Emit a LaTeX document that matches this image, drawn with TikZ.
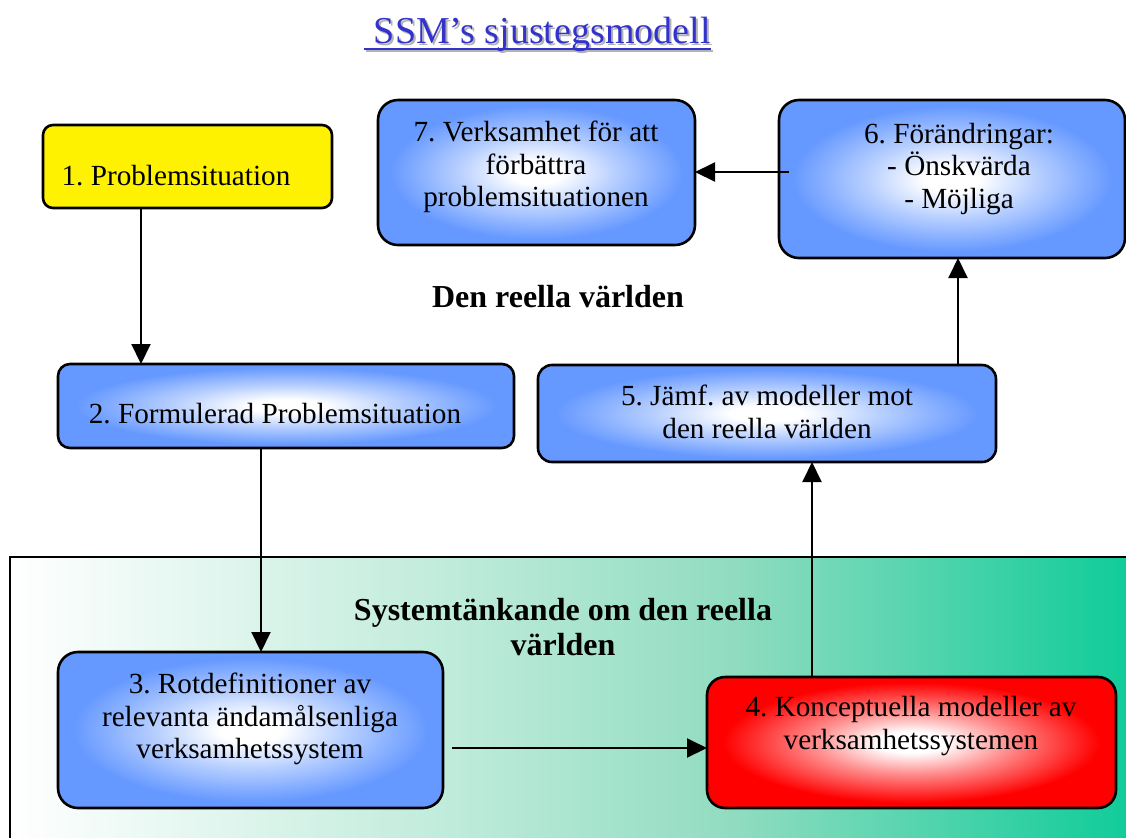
\documentclass[tikz,border=0pt]{standalone}
\usepackage{fontspec}
\setmainfont{Liberation Serif}
\usetikzlibrary{arrows.meta,calc}
\frenchspacing
\definecolor{boxblue}{RGB}{102,153,255}
\definecolor{boxred}{RGB}{255,0,0}
\definecolor{titleblue}{RGB}{51,51,204}
\definecolor{gA}{RGB}{190,235,218}
\definecolor{gB}{RGB}{144,220,192}
\definecolor{gC}{RGB}{16,204,153}
\colorlet{bmid}{white!55!boxblue}
\colorlet{rmid}{white!55!boxred}
\pgfdeclareradialshading{blueshade}{\pgfpoint{0bp}{0bp}}{color(0bp)=(white); color(4bp)=(white); color(12bp)=(bmid); color(23bp)=(boxblue); color(50bp)=(boxblue)}
\pgfdeclareradialshading{redshade}{\pgfpoint{0bp}{0bp}}{color(0bp)=(white); color(4bp)=(white); color(12bp)=(rmid); color(23bp)=(boxred); color(50bp)=(boxred)}
\pgfdeclarehorizontalshading{greenshade}{100bp}{color(0bp)=(white); color(25bp)=(white); color(45bp)=(gA); color(57.5bp)=(gB); color(75bp)=(gC); color(100bp)=(gC)}
\tikzset{
  box/.style={rounded corners=#1, draw=black, line width=1.3pt, inner sep=0pt, outer sep=0pt, shading=blueshade},
  redbox/.style={box=#1, shading=redshade},
  yellowbox/.style={rounded corners=#1, draw=black, line width=1.3pt, inner sep=0pt, outer sep=0pt, fill=yellow},
  txt/.style={align=center, font=\fontsize{14.6pt}{16.3pt}\selectfont\frenchspacing, inner sep=0pt},
  lbl/.style={align=center, font=\fontsize{16pt}{17.5pt}\selectfont\bfseries\frenchspacing, inner sep=0pt},
  arr/.style={line width=1pt, -{Triangle[length=10pt,width=9.5pt]}},
  ttl/.style={anchor=base west, inner sep=0pt, font=\fontsize{19pt}{22pt}\selectfont}
}
\begin{document}
\begin{tikzpicture}[x=0.5pt,y=-0.5pt]
\useasboundingbox (0,0) rectangle (1126,837);
\fill[white] (0,0) rectangle (1126,837);
% green region
\path[shading=greenshade, draw=black, line width=1pt] (10,557) rectangle (1128,839);
% title
\node[ttl, text=black!30] (titleshadow) at (366,45) {\ SSM’s sjustegsmodell};
\draw[black!30, line width=1pt] ([yshift=-3pt]titleshadow.base west) -- ([yshift=-3pt]titleshadow.base east);
\node[ttl, text=titleblue] (title) at (364,43) {\ SSM’s sjustegsmodell};
\draw[titleblue, line width=1pt] ([yshift=-3pt]title.base west) -- ([yshift=-3pt]title.base east);
% boxes
\node[yellowbox=5pt, minimum width=144.5pt, minimum height=41.5pt] (b1) at (187.5,166.5) {};
\node[box=6pt, minimum width=228pt, minimum height=42pt] (b2) at (286,406) {};
\node[box=10pt, minimum width=192.5pt, minimum height=78pt] (b3) at (250.5,730) {};
\node[redbox=9pt, minimum width=204.5pt, minimum height=65.5pt] (b4) at (911.5,742.5) {};
\node[box=7pt, minimum width=229pt, minimum height=48.5pt] (b5) at (767,413.5) {};
\node[box=10pt, minimum width=173pt, minimum height=79pt] (b6) at (952,179) {};
\node[box=10pt, minimum width=158.5pt, minimum height=72.5pt] (b7) at (536.5,172.5) {};
% texts
\node[txt] (t1) at (176,176) {1. Problemsituation};
\node[txt] (t2) at (275,414) {2. Formulerad Problemsituation};
\node[txt] (t3) at (250,719) {3. Rotdefinitioner av\\relevanta ändamålsenliga\\verksamhetssystem};
\node[txt] (t4) at (911,726) {4. Konceptuella modeller av\\verksamhetssystemen};
\node[txt] (t5) at (767,412) {5. Jämf. av modeller mot\\den reella världen};
\node[txt] (t6) at (959,169) {6. Förändringar:\\- Önskvärda\\- Möjliga};
\node[txt] (t7) at (536,167) {7. Verksamhet för att\\förbättra\\problemsituationen};
\node[lbl] (real) at (558,297) {Den reella världen};
\node[lbl] (sys) at (563,627) {Systemtänkande om den reella\\världen};
% connectors
\draw[arr] ([xshift=-23.25pt]b1.south) -- ([xshift=-23.25pt]b1.south |- b2.north);
\draw[arr] ([xshift=-12.5pt]b2.south) -- ([xshift=-12.5pt]b2.south |- b3.north);
\draw[arr] ([shift={(4.5pt,-9pt)}]b3.east) -- ([yshift=-9pt]b3.east -| b4.west);
\draw[arr] ([xshift=-49.75pt]b4.north) -- ([xshift=-49.75pt]b4.north |- b5.south);
\draw[arr] ([xshift=95.5pt]b5.north) -- ([xshift=95.5pt]b5.north |- b6.south);
\draw[arr] ([shift={(5pt,3.5pt)}]b6.west) -- ([yshift=3.5pt]b6.west -| b7.east);
\end{tikzpicture}
\end{document}
